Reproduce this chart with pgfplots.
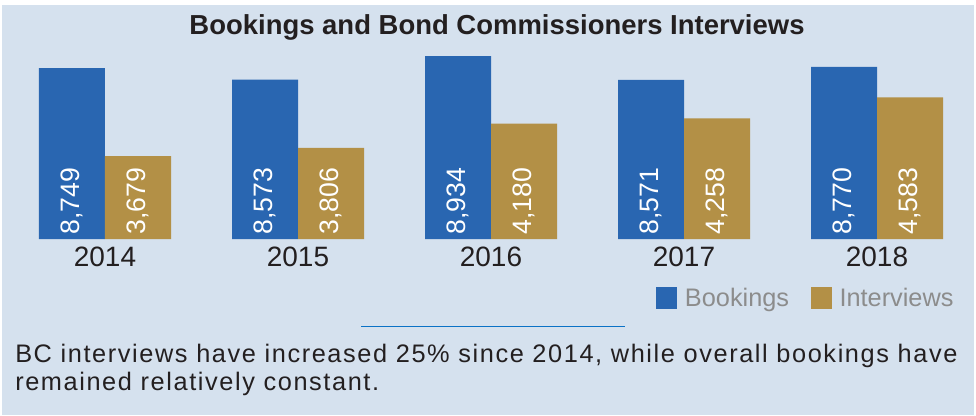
\documentclass[border=0pt]{standalone}
\usepackage{fontspec}
\setmainfont{Liberation Sans}
\usepackage{pgfplots}
\pgfplotsset{compat=1.18}

\definecolor{bg}{HTML}{D5E1EE}
\definecolor{bkblue}{HTML}{2966B1}
\definecolor{ivgold}{HTML}{B39046}
\definecolor{ink}{HTML}{231F20}
\definecolor{leggray}{HTML}{8C8C8C}
\definecolor{rulecol}{HTML}{0B72C6}

% shared geometry of the two overlaid axes (1px = 0.75pt)
\pgfplotsset{
  barframe/.style={
    scale only axis, width=723.75pt, height=141.75pt,
    at={(6.375pt,132pt)}, anchor=south west,
    xmin=-0.5, xmax=4.5,
    axis line style={draw=none},
    major tick length=0pt,
    ytick=\empty,
    xtick={0,...,4},
    clip=false,
    ybar, bar width=49.5pt,
    /pgf/number format/assume math mode=true,
    visualization depends on={rawy \as \rawy},
    nodes near coords={\pgfmathprintnumber[1000 sep={,}]{\pgfplotspointmeta}},
    every node near coord/.append style={
      shift={(axis direction cs:0,{#1-\rawy})},
      rotate=90, anchor=west, text=white, font=\fontsize{20pt}{24pt}\selectfont},
  },
  sqlegend/.style={legend image code/.code={
      \fill[##1] (0pt,-8.25pt) rectangle (15.75pt,8.25pt);}},
}

\begin{document}
\begin{tikzpicture}[x=0.75pt,y=0.75pt]
\fill[white] (0,0) rectangle (976,415);
\fill[bg] (2,0) rectangle (974,410);

\node[anchor=base, text=ink, font=\bfseries\fontsize{20.6pt}{24pt}\selectfont]
  at (497,380) {Bookings and Bond Commissioners Interviews};

% Bookings
\begin{axis}[barframe=6126,
    ymin=6126, ymax=9029,
    xticklabels={2014,2015,2016,2017,2018},
    xticklabel style={text=ink, inner sep=0pt, yshift=-5.5pt,
      font=\fontsize{21pt}{24pt}\selectfont},
    legend style={draw=none, fill=none, inner sep=0pt,
      at={(0.671,-0.312)}, anchor=west, legend columns=-1,
      font=\fontsize{19pt}{22pt}\selectfont, text=leggray,
      /tikz/every odd column/.append style={column sep=3.75pt},
      /tikz/every even column/.append style={column sep=14.25pt}},
  ]
\addplot[fill=bkblue, draw=none, bar shift=-24.75pt, forget plot]
  coordinates {(0,8749) (1,8573) (2,8934) (3,8571) (4,8770)};
\addlegendimage{sqlegend, fill=bkblue, draw=none}
\addlegendentry{Bookings}
\addlegendimage{sqlegend, fill=ivgold, draw=none}
\addlegendentry{Interviews}
\end{axis}

% Interviews
\begin{axis}[barframe=2407,
    ymin=2407, ymax=5310,
    xticklabels={},
  ]
\addplot[fill=ivgold, draw=none, bar shift=24.75pt]
  coordinates {(0,3679) (1,3806) (2,4180) (3,4258) (4,4583)};
\end{axis}

\draw[rulecol, line width=1.125pt] (361,88.7) -- (625,88.7);

\node[anchor=base west, inner sep=0pt, text=ink,
  font=\fontsize{19pt}{24pt}\selectfont\addfontfeature{LetterSpace=6.3}]
  at (15,53) {BC interviews have increased 25\% since 2014, while overall bookings have};
\node[anchor=base west, inner sep=0pt, text=ink,
  font=\fontsize{19pt}{24pt}\selectfont\addfontfeature{LetterSpace=6.3}]
  at (15,25) {remained relatively constant.};
\end{tikzpicture}
\end{document}
